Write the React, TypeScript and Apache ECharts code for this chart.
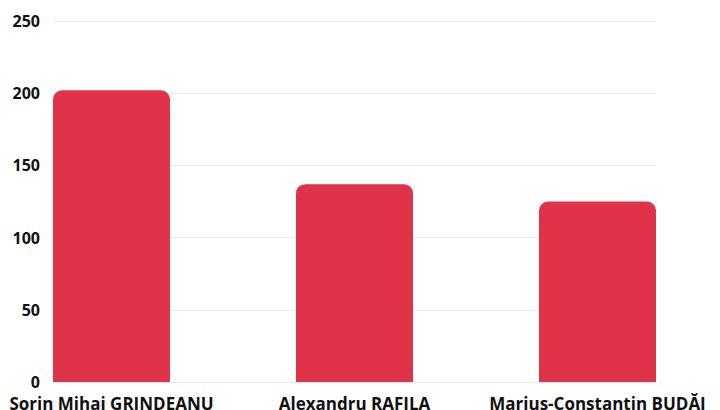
import React, { useEffect, useRef } from "react";
import * as echarts from "echarts";

const categories = ["Sorin Mihai GRINDEANU", "Alexandru RAFILA", "Marius-Constantin BUDĂI"];
const values = [202, 137, 125];
const yTicks = { min: 0, max: 250, interval: 50 };

export default function App() {
  const ref = useRef<HTMLDivElement>(null);
  useEffect(() => {
    document.body.style.margin = "0";
    if (!ref.current) return;
    const chart = echarts.init(ref.current, null, { renderer: "svg" });
    const font = { fontFamily: "Open Sans", fontWeight: "bold" as const, fontSize: 16, color: "#111" };
    chart.setOption({
      animation: false,
      grid: [
        { left: 53, right: 64, top: 21, bottom: 28, outerBoundsMode: "none", containLabel: false },
        { left: -10, right: 1, top: 21, bottom: 28, outerBoundsMode: "none", containLabel: false },
      ],
      xAxis: [
        { type: "category", gridIndex: 0, data: categories, show: false },
        {
          type: "category",
          gridIndex: 1,
          data: categories,
          axisLine: { show: false },
          axisTick: { show: false },
          axisLabel: { ...font, fontSize: 17, lineHeight: 14, margin: 14, interval: 0 },
        },
      ],
      yAxis: [
        {
          type: "value",
          gridIndex: 0,
          min: yTicks.min,
          max: yTicks.max,
          interval: yTicks.interval,
          axisLine: { show: false },
          axisTick: { show: false },
          axisLabel: { ...font, margin: 13 },
          splitLine: { lineStyle: { color: "#ebebeb", width: 1 } },
        },
        {
          type: "value",
          gridIndex: 1,
          min: yTicks.min,
          max: yTicks.max,
          interval: yTicks.interval,
          show: false,
          splitLine: { show: false },
        },
      ],
      series: [
        {
          type: "bar",
          xAxisIndex: 1,
          yAxisIndex: 1,
          data: values,
          barWidth: 117,
          itemStyle: { color: "#de3349", borderRadius: [9, 9, 0, 0] },
        },
      ],
    });
    return () => chart.dispose();
  }, []);
  return <div ref={ref} style={{ width: 720, height: 410 }} />;
}
